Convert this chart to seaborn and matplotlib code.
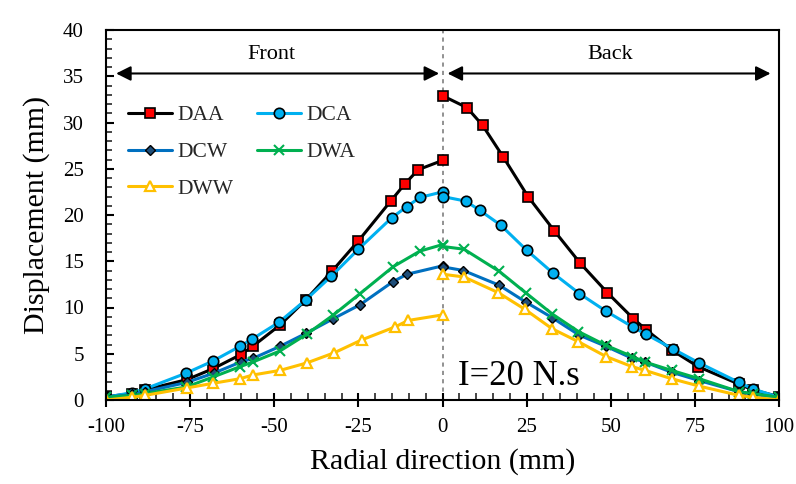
import matplotlib
matplotlib.use("Agg")
import matplotlib.pyplot as plt
import seaborn as sns
from matplotlib.lines import Line2D
from matplotlib.ticker import MultipleLocator

# ---- data ----
series_names = ["DAA", "DCA", "DCW", "DWA", "DWW"]

daa_front_x = [-100, -92.2, -88.4, -76, -68.1, -60, -56.4, -48.3, -40.7, -32.9, -25, -15.4, -11.1, -7.2, 0]
daa_front_y = [0.35, 0.7, 1.1, 2.2, 3.4, 4.9, 5.8, 8.1, 10.8, 13.9, 17.2, 21.5, 23.4, 24.9, 25.9]
daa_back_x = [0, 7.3, 11.9, 18, 25.4, 33.2, 40.9, 49, 56.7, 60.5, 68.1, 76, 88.2, 92.2, 100]
daa_back_y = [32.9, 31.6, 29.7, 26.3, 22.0, 18.3, 14.8, 11.6, 8.8, 7.6, 5.4, 3.6, 1.7, 1.1, 0.36]

dca_front_x = [-100, -92.2, -88.4, -76.2, -68.3, -60.2, -56.5, -48.6, -40.7, -33, -25, -15.1, -10.6, -6.7, 0]
dca_front_y = [0.3, 0.8, 1.2, 2.9, 4.2, 5.8, 6.6, 8.4, 10.8, 13.4, 16.3, 19.7, 20.9, 21.9, 22.5]
dca_back_x = [0, 6.9, 11.1, 17.3, 25, 32.9, 40.7, 48.6, 56.5, 60.5, 68.6, 76.3, 88.1, 92.2, 100]
dca_back_y = [22.0, 21.5, 20.5, 18.9, 16.2, 13.7, 11.5, 9.6, 7.9, 7.1, 5.5, 4.0, 1.9, 1.2, 0.3]

dcw_front_x = [-100, -92.2, -88.4, -76, -68, -60, -56.3, -48.3, -40.6, -32.4, -24.5, -14.7, -10.5, 0]
dcw_front_y = [0.3, 0.6, 0.9, 1.9, 2.9, 4.1, 4.5, 5.8, 7.2, 8.8, 10.3, 12.8, 13.6, 14.5]
dcw_back_x = [0, 6.2, 16.9, 24.7, 32.6, 40.7, 48.6, 56.4, 60.2, 68.1, 76.3, 88.1, 92.2, 100]
dcw_back_y = [14.4, 14.0, 12.4, 10.6, 8.9, 7.0, 5.8, 4.5, 4.1, 3.0, 2.1, 0.9, 0.6, 0.3]

dwa_front_x = [-100, -92.2, -88.4, -76.2, -68.1, -60.2, -56.4, -48.3, -40.4, -32.4, -24.5, -14.7, -6.7, 0]
dwa_front_y = [0.3, 0.5, 0.7, 1.4, 2.5, 3.6, 4.1, 5.3, 7.1, 9.2, 11.5, 14.4, 16.1, 16.8]
dwa_back_x = [0, 6.4, 16.9, 24.7, 32.6, 40.4, 48.6, 56.4, 60.2, 68.1, 76.3, 88.1, 92.2, 100]
dwa_back_y = [16.6, 16.3, 13.9, 11.6, 9.3, 7.4, 5.9, 4.7, 4.1, 3.2, 2.3, 0.9, 0.7, 0.3]

dww_front_x = [-100, -92.2, -88.4, -76, -68.3, -60.2, -56.4, -48.3, -40.4, -32.2, -24, -14.1, -10.2, 0]
dww_front_y = [0.0, 0.3, 0.5, 1.3, 1.8, 2.3, 2.7, 3.2, 4.0, 5.1, 6.5, 7.9, 8.6, 9.2]
dww_back_x = [0, 6.4, 16.6, 24.5, 32.6, 40.4, 48.6, 56.4, 60.2, 68.1, 76.3, 88.1, 92.2, 100]
dww_back_y = [13.6, 13.3, 11.6, 9.8, 7.7, 6.3, 4.7, 3.6, 3.2, 2.3, 1.5, 0.5, 0.3, 0.0]

x_ticks = [-100, -75, -50, -25, 0, 25, 50, 75, 100]
y_ticks = [0, 5, 10, 15, 20, 25, 30, 35, 40]

segments = {
    "DAA": [(daa_front_x, daa_front_y), (daa_back_x, daa_back_y)],
    "DCA": [(dca_front_x, dca_front_y), (dca_back_x, dca_back_y)],
    "DCW": [(dcw_front_x, dcw_front_y), (dcw_back_x, dcw_back_y)],
    "DWA": [(dwa_front_x, dwa_front_y), (dwa_back_x, dwa_back_y)],
    "DWW": [(dww_front_x, dww_front_y), (dww_back_x, dww_back_y)],
}

styles = {
    "DAA": dict(color="black", marker="s", markersize=7, markerfacecolor="#FF0000", markeredgecolor="black", markeredgewidth=1.2),
    "DCA": dict(color="#00B0F0", marker="o", markersize=7.5, markerfacecolor="#00B0F0", markeredgecolor="black", markeredgewidth=1.2),
    "DCW": dict(color="#0070C0", marker="D", markersize=5.5, markerfacecolor="#1F4E79", markeredgecolor="black", markeredgewidth=1.0),
    "DWA": dict(color="#00B050", marker="x", markersize=7, markerfacecolor="#00B050", markeredgecolor="#00B050", markeredgewidth=1.5),
    "DWW": dict(color="#FFC000", marker="^", markersize=7.5, markerfacecolor="white", markeredgecolor="#FFC000", markeredgewidth=1.6),
}

sns.set_theme(style="ticks")
plt.rcParams["font.family"] = ["Liberation Serif", "DejaVu Serif"]

fig = plt.figure(figsize=(7.96, 4.84), dpi=100)
ax = fig.add_axes([106 / 796, 1 - 400 / 484, 673 / 796, 370 / 484])

for name in series_names:
    for xs, ys in segments[name]:
        sns.lineplot(x=xs, y=ys, ax=ax, sort=False, legend=False, estimator=None,
                     linewidth=2.2, **styles[name])

ax.set_xlim(-100, 100)
ax.set_ylim(0, 40)
ax.set_xticks(x_ticks)
ax.set_yticks(y_ticks)
ax.set_xticklabels([str(t) for t in x_ticks])
ax.xaxis.set_minor_locator(MultipleLocator(5))
ax.yaxis.set_minor_locator(MultipleLocator(1))
ax.tick_params(axis="x", which="major", direction="inout", length=10, width=1.5, labelsize=15, pad=8, colors="black")
ax.tick_params(axis="x", which="minor", direction="in", length=5, width=1.2, bottom=True)
ax.tick_params(axis="y", which="major", direction="in", length=6, width=1.5, labelsize=15, pad=16, colors="black")
ax.tick_params(axis="y", which="minor", direction="in", length=4, width=1.2, left=True)
for sp in ax.spines.values():
    sp.set_color("black")
    sp.set_linewidth(1.5)

ax.set_xlabel("Radial direction (mm)", fontsize=21.5, labelpad=8, color="black")
ax.set_ylabel("Displacement (mm)", fontsize=21.5, labelpad=9, color="black")

# center divider
ax.axvline(0, color="#7F7F7F", linestyle=(0, (2.5, 2.5)), linewidth=1.2, zorder=0)

# region arrows
arrow_kw = dict(arrowstyle="<|-|>", color="black", lw=1.5, mutation_scale=22, shrinkA=0, shrinkB=0)
ax.annotate("", xy=(-97, 35.3), xytext=(-1, 35.3), arrowprops=arrow_kw)
ax.annotate("", xy=(1.5, 35.3), xytext=(97.5, 35.3), arrowprops=arrow_kw)
ax.text(-50.7, 37.3, "Front", ha="center", va="center", fontsize=16, color="black")
ax.text(49.8, 37.3, "Back", ha="center", va="center", fontsize=16, color="black")

ax.text(4.5, 1.6, "I=20 N.s", ha="left", va="baseline", fontsize=25, color="black")

# legend filled row-wise like the reference (matplotlib fills column-wise)
legend_order = ["DAA", "DCW", "DWW", "DCA", "DWA"]
handles = [Line2D([0], [0], linewidth=2.2, **styles[n]) for n in legend_order]
ax.legend(handles, legend_order, ncol=2, loc="upper left", bbox_to_anchor=(0.02, 0.82),
          frameon=False, fontsize=15.5, handlelength=2.05, columnspacing=1.1,
          labelspacing=0.78, handletextpad=0.25, borderaxespad=0)

fig.savefig("out.png", dpi=100)
